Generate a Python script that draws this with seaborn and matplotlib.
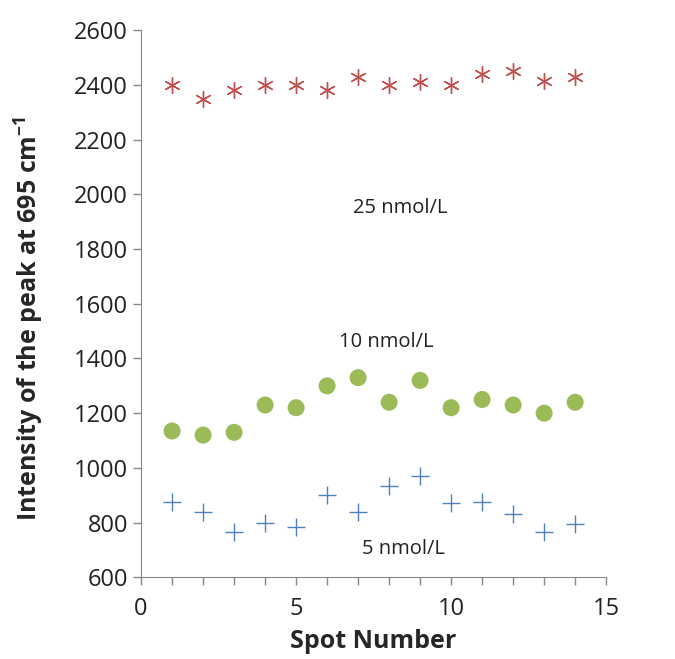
import seaborn as sns
import numpy as np
import pandas as pd
import matplotlib.pyplot as plt

# values
spots = list(range(1, 15))
conc_25 = [2400, 2350, 2380, 2400, 2400, 2380, 2430, 2400, 2410, 2400, 2440, 2450, 2415, 2430]
conc_10 = [1135, 1120, 1130, 1230, 1220, 1300, 1330, 1240, 1320, 1220, 1250, 1230, 1200, 1240]
conc_5 = [875, 840, 765, 800, 785, 900, 840, 935, 972, 870, 875, 830, 765, 795]
labels = ["25 nmol/L", "10 nmol/L", "5 nmol/L"]

data = pd.DataFrame({
    "spot": spots * 3,
    "intensity": conc_25 + conc_10 + conc_5,
    "conc": np.repeat(labels, len(spots)),
})

sns.set_style("ticks")
plt.rcParams['font.family'] = ['Open Sans', 'DejaVu Sans']
plt.rcParams['mathtext.fontset'] = 'custom'
plt.rcParams['mathtext.rm'] = 'Open Sans'
plt.rcParams['mathtext.bf'] = 'Open Sans:bold'

fig = plt.figure(figsize=(6.75, 6.59), dpi=100)
ax = fig.add_axes([0.209, 0.124, 0.689, 0.830])

palette = {"25 nmol/L": "#C0504D", "10 nmol/L": "#9BBB59", "5 nmol/L": "#4F81BD"}
markers = {"25 nmol/L": (6, 2, 0), "10 nmol/L": "o", "5 nmol/L": "+"}
sizes = {"25 nmol/L": 130, "10 nmol/L": 150, "5 nmol/L": 170}

for c in labels:
    sub = data[data["conc"] == c]
    if c == "10 nmol/L":
        sns.scatterplot(data=sub, x="spot", y="intensity", ax=ax, color=palette[c],
                        marker=markers[c], s=sizes[c], edgecolor="none", legend=False)
    else:
        sns.scatterplot(data=sub, x="spot", y="intensity", ax=ax, color=palette[c],
                        marker=markers[c], s=sizes[c], linewidth=1.0, legend=False)

# concentration labels inside the plot
ax.text(8.35, 1950, "25 nmol/L", ha="center", va="center", fontsize=14.5, color="#222222")
ax.text(7.9, 1460, "10 nmol/L", ha="center", va="center", fontsize=14.5, color="#222222")
ax.text(8.45, 705, "5 nmol/L", ha="center", va="center", fontsize=14.5, color="#222222")

ax.set_xlim(0, 15)
ax.set_ylim(600, 2600)
ax.set_xticks([0, 5, 10, 15])
ax.set_xticks(range(0, 16), minor=True)
ax.set_yticks(range(600, 2601, 200))
ax.tick_params(axis="both", which="both", colors="#888888", labelcolor="#222222",
               labelsize=17, length=6, width=1)
ax.tick_params(axis="x", which="both", pad=8)

for side in ["top", "right"]:
    ax.spines[side].set_visible(False)
for side in ["left", "bottom"]:
    ax.spines[side].set_color("#888888")

ax.set_xlabel("Spot Number", fontsize=18, fontweight="bold", labelpad=6)
ax.set_ylabel("Intensity of the peak at 695 cm$^{\\mathbf{-1}}$", fontsize=18,
              fontweight="bold")
ax.yaxis.set_label_coords(-0.205, 0.473)

plt.savefig("out.png", dpi=100)
